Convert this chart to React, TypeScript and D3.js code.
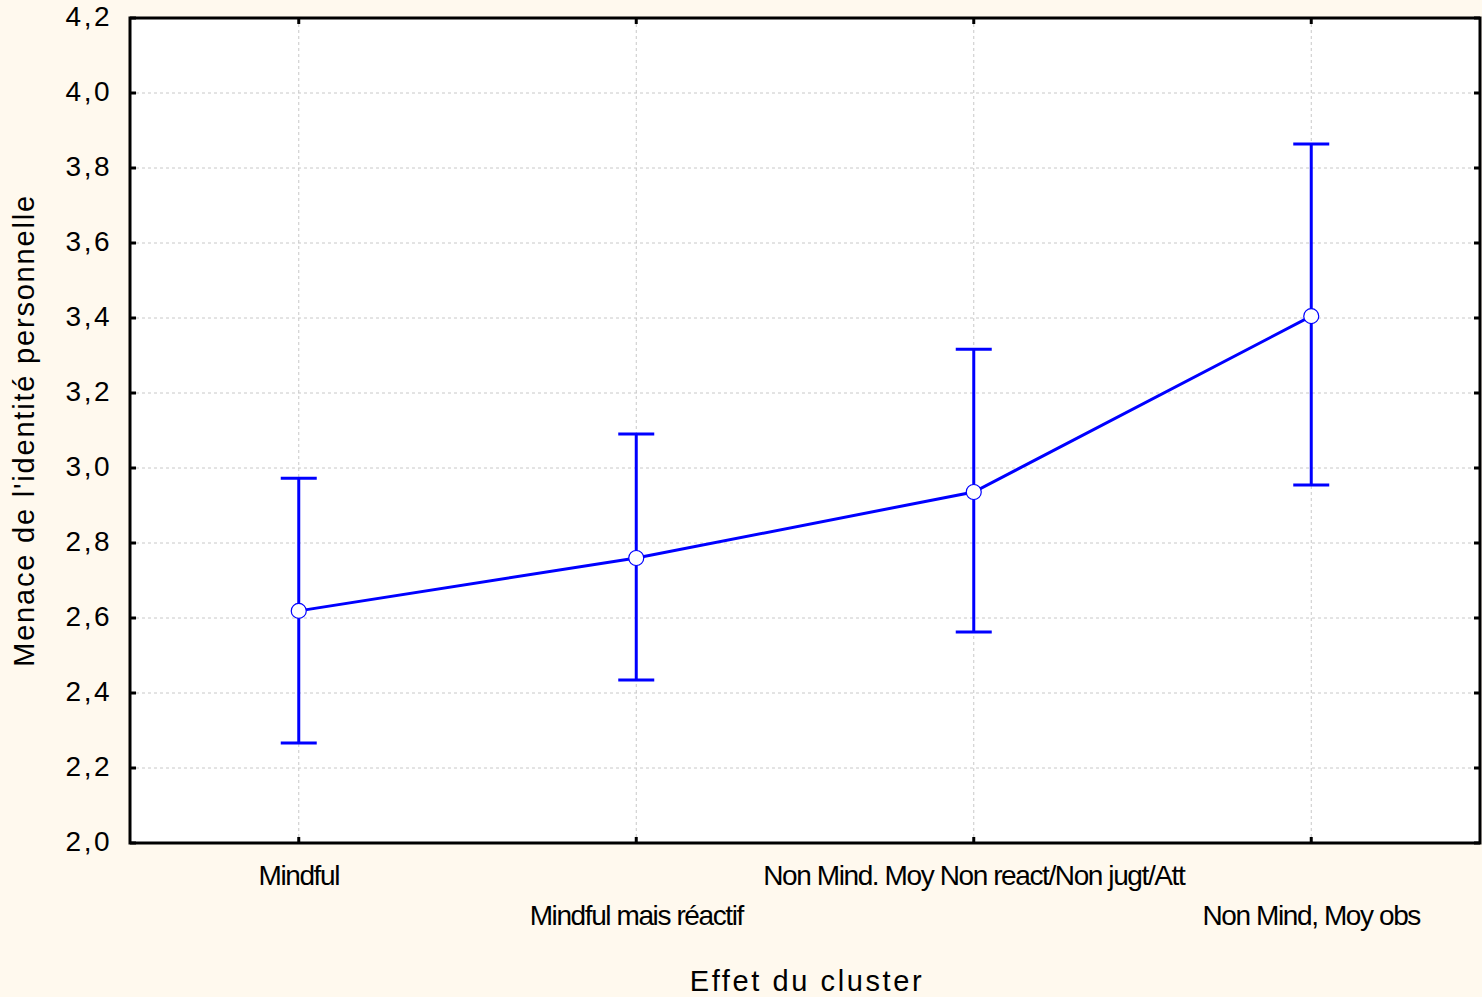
import React from "react";
import * as d3 from "d3";

const categories = [
  "Mindful",
  "Mindful mais réactif",
  "Non Mind. Moy Non react/Non jugt/Att",
  "Non Mind, Moy obs",
];
const means = [2.619, 2.76, 2.936, 3.405];
const upper = [2.973, 3.091, 3.317, 3.864];
const lower = [2.267, 2.435, 2.563, 2.955];
const yTicks = [2.0, 2.2, 2.4, 2.6, 2.8, 3.0, 3.2, 3.4, 3.6, 3.8, 4.0, 4.2];

const W = 1482;
const H = 997;
const margin = { top: 18, right: 2, bottom: 154, left: 130 };
const blue = "#0000ff";
const font = "'Liberation Sans', Arial, sans-serif";

const App = () => {
  const x = d3
    .scalePoint()
    .domain(categories)
    .range([margin.left, W - margin.right])
    .padding(0.5);
  const y = d3
    .scaleLinear()
    .domain([2.0, 4.2])
    .range([H - margin.bottom, margin.top]);

  const left = margin.left;
  const right = W - margin.right;
  const top = margin.top;
  const bottom = H - margin.bottom;

  const line = d3
    .line<number>()
    .x((d, i) => x(categories[i]) as number)
    .y(d => y(d));

  const fmt = (v: number) => d3.format(".1f")(v).replace(".", ",");

  return (
    <svg
      width={W}
      height={H}
      style={{ position: "absolute", left: 0, top: 0, display: "block" }}
    >
      <rect x={0} y={0} width={W} height={H} fill="#fff9ee" />
      <rect x={left} y={top} width={right - left} height={bottom - top} fill="#ffffff" />

      {/* grid */}
      {yTicks.slice(1, -1).map(t => (
        <line
          key={"gy" + t}
          x1={left}
          x2={right}
          y1={y(t)}
          y2={y(t)}
          stroke="#c8c8c8"
          strokeDasharray="3,3"
          strokeWidth={1}
        />
      ))}
      {categories.map(c => (
        <line
          key={"gx" + c}
          x1={x(c)}
          x2={x(c)}
          y1={top}
          y2={bottom}
          stroke="#c8c8c8"
          strokeDasharray="3,3"
          strokeWidth={1}
        />
      ))}

      {/* ticks */}
      {yTicks.map(t => (
        <g key={"t" + t}>
          <line x1={left} x2={left + 6} y1={y(t)} y2={y(t)} stroke="#000" strokeWidth={3} />
          <line x1={right - 6} x2={right} y1={y(t)} y2={y(t)} stroke="#000" strokeWidth={3} />
          <text
            x={left - 18}
            y={y(t)}
            dy="0.3em"
            textAnchor="end"
            fontFamily={font}
            fontSize={28}
            letterSpacing={2.5}
            fill="#000"
          >
            {fmt(t)}
          </text>
        </g>
      ))}
      {categories.map((c, i) => (
        <g key={"xt" + c}>
          <line x1={x(c)} x2={x(c)} y1={top} y2={top + 6} stroke="#000" strokeWidth={3} />
          <line x1={x(c)} x2={x(c)} y1={bottom - 6} y2={bottom} stroke="#000" strokeWidth={3} />
          <text
            x={x(c)}
            y={885}
            dy={i % 2 === 0 ? 0 : 40}
            textAnchor="middle"
            fontFamily={font}
            fontSize={28}
            letterSpacing={-1.4}
            fill="#000"
          >
            {c}
          </text>
        </g>
      ))}

      {/* frame */}
      <rect
        x={left}
        y={top}
        width={right - left}
        height={bottom - top}
        fill="none"
        stroke="#000"
        strokeWidth={3}
      />

      {/* error bars */}
      {categories.map((c, i) => {
        const cx = x(c) as number;
        return (
          <g key={"eb" + c} stroke={blue} strokeWidth={3}>
            <line x1={cx} x2={cx} y1={y(lower[i])} y2={y(upper[i])} />
            <line x1={cx - 18} x2={cx + 18} y1={y(upper[i])} y2={y(upper[i])} />
            <line x1={cx - 18} x2={cx + 18} y1={y(lower[i])} y2={y(lower[i])} />
          </g>
        );
      })}

      <path d={line(means) || ""} fill="none" stroke={blue} strokeWidth={3} />
      {means.map((m, i) => (
        <circle
          key={"p" + i}
          cx={x(categories[i])}
          cy={y(m)}
          r={7.5}
          fill="#fff"
          stroke={blue}
          strokeWidth={1.2}
        />
      ))}

      {/* axis titles */}
      <text
        x={(left + right) / 2 + 2}
        y={991}
        textAnchor="middle"
        fontFamily={font}
        fontSize={29}
        letterSpacing={2.6}
        fill="#000"
      >
        Effet du cluster
      </text>
      <text
        transform={`translate(34, ${(top + bottom) / 2}) rotate(-90)`}
        textAnchor="middle"
        fontFamily={font}
        fontSize={29}
        letterSpacing={1.8}
        fill="#000"
      >
        Menace de l'identité personnelle
      </text>
    </svg>
  );
};

export default App;
